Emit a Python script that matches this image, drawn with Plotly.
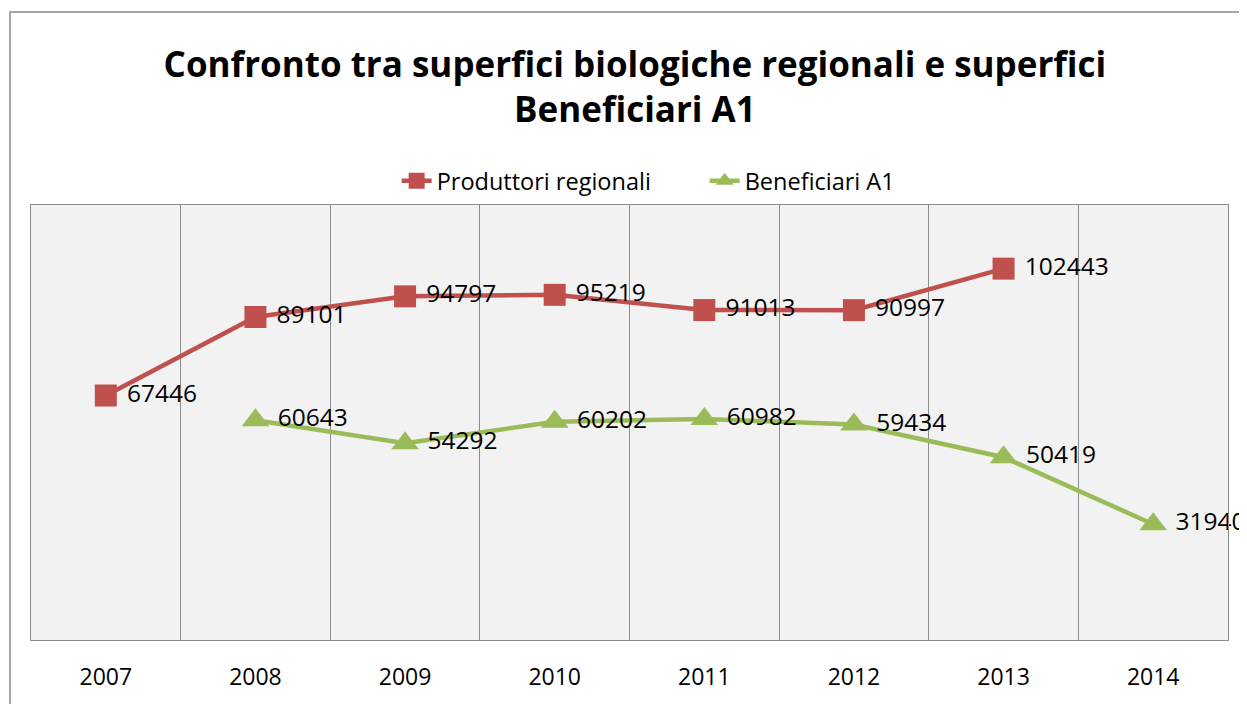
import plotly.graph_objects as go

anni = ["2007", "2008", "2009", "2010", "2011", "2012", "2013", "2014"]
produttori = [67446, 89101, 94797, 95219, 91013, 90997, 102443, None]
beneficiari = [None, 60643, 54292, 60202, 60982, 59434, 50419, 31940]

ROSSO = "#C0504D"
VERDE = "#9BBB59"
FONT = "Open Sans"

x = list(range(len(anni)))


def etichette(vals):
    # spazio iniziale per staccare l'etichetta dal marker
    return ["" if v is None else "\u00a0" + str(v) for v in vals]


fig = go.Figure()
fig.add_trace(go.Scatter(
    x=x, y=produttori, name="Produttori regionali" + "\u00a0" * 8,
    mode="lines+markers+text", text=etichette(produttori),
    textposition="middle right", textfont=dict(size=24.5, color="black"),
    line=dict(color=ROSSO, width=4.5),
    marker=dict(symbol="square", size=22, color=ROSSO),
    cliponaxis=False,
))
fig.add_trace(go.Scatter(
    x=x, y=beneficiari, name="Beneficiari A1",
    mode="lines+markers+text", text=etichette(beneficiari),
    textposition="middle right", textfont=dict(size=24.5, color="black"),
    line=dict(color=VERDE, width=4.5),
    marker=dict(symbol="triangle-up", size=24, color=VERDE),
    cliponaxis=False,
))

fig.update_layout(
    width=1239, height=696,
    margin=dict(l=23, r=19, t=197, b=64, autoexpand=False),
    paper_bgcolor="white", plot_bgcolor="#F2F2F2",
    font=dict(family=FONT, color="black"),
    title=dict(
        text="<b>Confronto tra superfici biologiche regionali e superfici<br>Beneficiari A1</b>",
        x=0.506, xanchor="center", y=0.901, yanchor="middle",
        font=dict(size=35, family=FONT, color="black"),
    ),
    legend=dict(
        orientation="h", x=0.516, xanchor="center", y=1.055, yanchor="middle",
        font=dict(size=23.5), bgcolor="rgba(0,0,0,0)",
    ),
    showlegend=True,
)
fig.update_xaxes(
    range=[-0.5, len(anni) - 0.5], tickvals=x, ticktext=anni,
    tickfont=dict(size=23), showgrid=False, zeroline=False,
    showline=True, mirror=True, linecolor="#8C8C8C", linewidth=1,
    ticks="", ticklabelstandoff=16, automargin=False,
    minor=dict(tick0=0.5, dtick=1, showgrid=True, gridcolor="#8C8C8C", gridwidth=1),
)
fig.update_yaxes(
    range=[0, 120000], showticklabels=False, showgrid=False, zeroline=False,
    showline=True, mirror=True, linecolor="#8C8C8C", linewidth=1, automargin=False,
)
# bordo dell'area del grafico
fig.add_shape(type="rect", xref="paper", yref="paper",
              x0=-21 / 1197, x1=1.05, y0=-0.2, y1=1 + 193 / 435,
              line=dict(color="#A6A6A6", width=2), layer="below")

fig.write_html("out.html")
